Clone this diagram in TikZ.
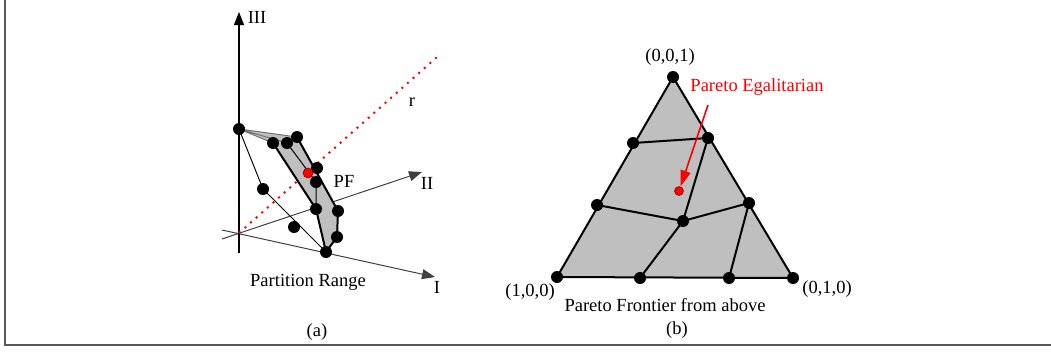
\documentclass[tikz,border=0pt]{standalone}
\usepackage{fontspec}
\setmainfont{Liberation Serif}
\usetikzlibrary{arrows.meta}

\begin{document}
\begin{tikzpicture}[
        x=1pt, y=-1pt,
        dot/.style={
            circle,
            fill=black,
            inner sep=0pt,
            minimum size=12pt
        },
        reddot/.style={
            circle,
            fill=red,
            draw=red!60!black,
            line width=0.6pt,
            inner sep=0pt,
            minimum size=9pt
        },
        axis/.style={
            -{Triangle[length=13pt, width=10pt]},
            draw=black!75,
            line width=1pt
        },
        edge/.style={
            line width=2pt
        },
        thinline/.style={
            line width=1pt
        },
        label/.style={
            inner sep=0pt,
            font=\fontsize{18.5}{22}\selectfont
        }
    ]

        \useasboundingbox (0,0) rectangle (1051,351);
        \draw[black!65, line width=2pt] (5,0) -- (5,345) -- (1051,345);

        % (a) axes
        \coordinate (O) at (239,233);
        \coordinate (IIIlow) at (239,253);
        \coordinate (IIItip) at (239,12);
        \coordinate (IIlow) at (222,239);
        \coordinate (IItip) at (422,172);
        \coordinate (Ilow) at (222,230);
        \coordinate (Itip) at (435,277);
        \coordinate (rend) at (437,57);

        \draw[axis] (IIlow) -- (IItip);
        \draw[axis] (Ilow) -- (Itip);
        \draw[axis, draw=black, line width=1.3pt] (IIIlow) -- (IIItip);
        \draw[red, line width=2pt, dash pattern=on 2pt off 5.5pt] (O) -- (rend);

        % (a) front points
        \coordinate (A) at (239,129);
        \coordinate (B) at (273,143);
        \coordinate (C) at (287,143);
        \coordinate (D) at (297,137);
        \coordinate (E) at (317,168);
        \coordinate (F) at (316,182);
        \coordinate (G) at (316,209);
        \coordinate (H) at (338,211);
        \coordinate (J) at (337,237);
        \coordinate (K) at (326,252);
        \coordinate (L) at (263,189);
        \coordinate (M) at (294,227);

        \fill[black!25] (A) -- (B) -- (C) -- (D) -- cycle;
        \fill[black!25] (B) -- (C) -- (D) -- (H) -- (J) -- (K) -- (G) -- cycle;
        \draw[thinline, black!55] (A) -- (B) (A) -- (C) (A) -- (D);
        \draw[edge] (B) -- (G) -- (K);
        \draw[edge] (D) -- (H) -- (J) -- (K);
        \draw[thinline] (C) -- (F) -- (G);
        \draw[thinline] (A) -- (L) -- (K);

        \foreach \p in {A,B,C,D,E,F,G,H,J,K,L,M}
            \node[dot] (n\p) at (\p) {};
        \node[reddot, minimum size=10pt] (pe3d) at (308,173) {};

        \node[label] (lIII) at (257,17) {III};
        \node[label] (lII) at (427,183) {II};
        \node[label] (lI) at (437,287) {I};
        \node[label] (lr) at (412,102) {r};
        \node[label] (lPF) at (344,181) {PF};
        \node[label] (lrange) at (308,282) {Partition Range};
        \node[label] (la) at (317,332) {(a)};

        % (b) simplex
        \coordinate (T) at (673,77);
        \coordinate (X) at (557,277);
        \coordinate (Y) at (793,278);
        \coordinate (P1) at (633,143);
        \coordinate (P2) at (597,205);
        \coordinate (Q1) at (708,138);
        \coordinate (Q2) at (749,203);
        \coordinate (R1) at (640,278);
        \coordinate (R2) at (729,278);
        \coordinate (Z) at (683,221);

        \draw[edge, fill=black!25] (T) -- (Y) -- (X) -- cycle;
        \draw[edge] (P1) -- (Q1) -- (Z);
        \draw[edge] (P2) -- (Z) -- (Q2) -- (R2);
        \draw[edge] (Z) -- (R1);

        \foreach \p in {T,X,Y,P1,P2,Q1,Q2,R1,R2,Z}
            \node[dot] (n\p) at (\p) {};
        \node[reddot] (egal) at (679,191) {};

        \coordinate (egalfrom) at (708,105);
        \draw[red, line width=1.6pt, -{Triangle[length=16pt, width=10pt]}] (egalfrom) -- (egal);

        \node[label, red] (legal) at (757,87) {Pareto Egalitarian};
        \node[label] (lT) at (670,57) {(0,0,1)};
        \node[label] (lX) at (530,292) {(1,0,0)};
        \node[label] (lY) at (827,289) {(0,1,0)};
        \node[label] (ltop) at (665,305) {Pareto Frontier from above};
        \node[label] (lb) at (677,330) {(b)};

    \end{tikzpicture}
\end{document}
